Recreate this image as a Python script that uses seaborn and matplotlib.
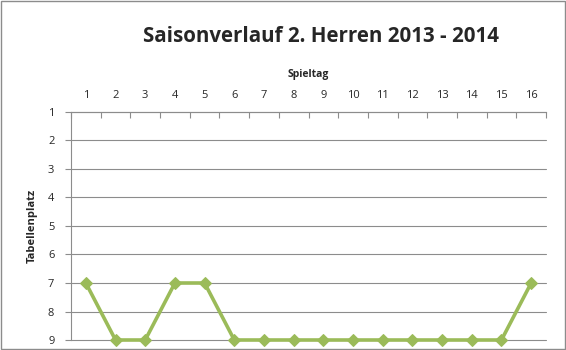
import matplotlib
matplotlib.use("Agg")
import matplotlib.pyplot as plt
import seaborn as sns
import pandas as pd

spieltag = list(range(1, 17))
tabellenplatz = [7, 9, 9, 7, 7, 9, 9, 9, 9, 9, 9, 9, 9, 9, 9, 7]
title = "Saisonverlauf 2. Herren 2013 - 2014"
xlabel = "Spieltag"
ylabel = "Tabellenplatz"

sns.set_theme(style="white")
plt.rcParams['font.family'] = ['Open Sans', 'DejaVu Sans']

df = pd.DataFrame({"Spieltag": spieltag, "Tabellenplatz": tabellenplatz})

fig = plt.figure(figsize=(5.66, 3.5), dpi=100)
fig.patch.set_facecolor("white")
ax = fig.add_axes([71/566, 1-340/350, (546-71)/566, (340-112)/350])

for y in range(1, 10):
    ax.axhline(y, color="#8c8c8c", lw=0.8, zorder=0)

sns.lineplot(data=df, x="Spieltag", y="Tabellenplatz", ax=ax, color="#9BBB59",
             lw=2.6, marker="D", markersize=6.5, markeredgecolor="#9BBB59")
for ln in ax.lines:
    ln.set_clip_on(False)

ax.set_xlim(0.5, 16.5)
ax.set_ylim(9, 1)
ax.xaxis.tick_top()
ax.xaxis.set_label_position("top")
ax.set_xticks(spieltag)
ax.set_xticklabels([str(s) for s in spieltag], fontsize=8)
ax.set_xticks([x + 0.5 for x in range(0, 17)], minor=True)
ax.tick_params(axis="x", which="major", length=0, pad=8)
ax.tick_params(axis="x", which="minor", length=4, direction="in", color="#8c8c8c", width=0.8)
ax.set_yticks(range(1, 10))
ax.set_yticklabels([str(y) for y in range(1, 10)], fontsize=8)
ax.tick_params(axis="y", which="major", length=4, direction="out", color="#8c8c8c", width=0.8, left=True, pad=8)

for s in ["right", "bottom"]:
    ax.spines[s].set_visible(False)
for s in ["top", "left"]:
    ax.spines[s].set_color("#8c8c8c")
    ax.spines[s].set_linewidth(0.8)

ax.set_xlabel(xlabel, fontsize=7.5, fontweight="bold", labelpad=9)
ax.set_ylabel(ylabel, fontsize=8, fontweight="bold", labelpad=7)
ax.set_facecolor("white")

fig.text(321/566, 1-36/350, title, ha="center", va="center", fontsize=14.8, fontweight="bold")

border = plt.Rectangle((0.001, 0.002), 0.997, 0.995, transform=fig.transFigure,
                       fill=False, edgecolor="#8c8c8c", lw=1)
fig.patches.append(border)

fig.savefig("out.png", dpi=100, facecolor="white")
